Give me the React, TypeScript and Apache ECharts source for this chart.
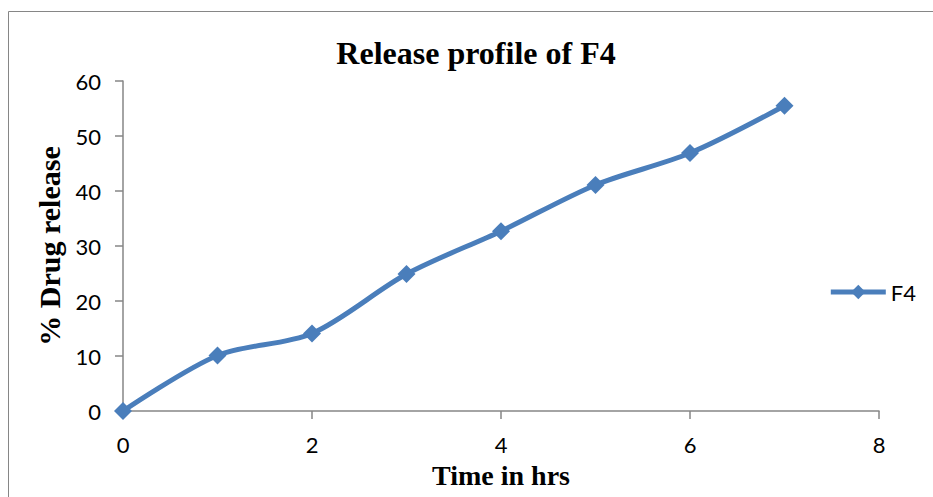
import React, { useEffect, useRef } from "react";
import * as echarts from "echarts";

const timeHrs = [0, 1, 2, 3, 4, 5, 6, 7];
const f4Release = [0, 10.1, 14.1, 24.9, 32.7, 41.1, 46.9, 55.5];
const xTicks = [0, 2, 4, 6, 8];
const yTicks = [0, 10, 20, 30, 40, 50, 60];

export default function App() {
  const ref = useRef<HTMLDivElement>(null);
  useEffect(() => {
    if (!ref.current) return;
    const chart = echarts.init(ref.current, null, { renderer: "svg" });
    const axisColor = "#868686";
    const tickFont = { fontFamily: "Lato", fontSize: 22, color: "#000" };
    chart.setOption({
      animation: false,
      backgroundColor: "#fff",
      title: {
        text: "Release profile of F4",
        left: 471,
        textAlign: "center",
        top: 32,
        textStyle: { fontFamily: "Liberation Serif", fontWeight: "bold", fontSize: 32, color: "#000" },
      },
      graphic: [
        {
          type: "rect",
          shape: { x: 8.5, y: 11.5, width: 1000, height: 1000 },
          style: { fill: "none", stroke: "#868686", lineWidth: 1 },
          silent: true,
          z: -10,
        },
      ],
      legend: {
        right: 12,
        top: 276,
        itemWidth: 55,
        itemHeight: 18,
        itemGap: 6,
        data: ["F4"],
        lineStyle: { width: 5 },
        textStyle: { fontFamily: "Lato", fontSize: 22, color: "#000" },
      },
      grid: { left: 123, right: 54, top: 81, bottom: 86, containLabel: false },
      xAxis: {
        type: "value",
        min: xTicks[0],
        max: xTicks[xTicks.length - 1],
        interval: 2,
        name: "Time in hrs",
        nameLocation: "middle",
        nameGap: 50,
        nameTextStyle: { fontFamily: "Liberation Serif", fontWeight: "bold", fontSize: 28, color: "#000" },
        axisLine: { show: true, lineStyle: { color: axisColor, width: 1.5 } },
        axisTick: { show: true, length: 8, lineStyle: { color: axisColor, width: 1.5 } },
        axisLabel: { ...tickFont, margin: 22 },
        splitLine: { show: false },
      },
      yAxis: {
        type: "value",
        min: yTicks[0],
        max: yTicks[yTicks.length - 1],
        interval: 10,
        name: "% Drug release",
        nameLocation: "middle",
        nameGap: 59,
        nameTextStyle: { fontFamily: "Liberation Serif", fontWeight: "bold", fontSize: 30, color: "#000" },
        axisLine: { show: true, lineStyle: { color: axisColor, width: 1.5 } },
        axisTick: { show: true, length: 8, lineStyle: { color: axisColor, width: 1.5 } },
        axisLabel: { ...tickFont, margin: 22 },
        splitLine: { show: false },
      },
      series: [
        {
          name: "F4",
          type: "line",
          smooth: 0.3,
          data: timeHrs.map((t, i) => [t, f4Release[i]]),
          symbol: "diamond",
          symbolSize: 18,
          lineStyle: { color: "#4a7ebb", width: 5 },
          itemStyle: { color: "#4a7ebb" },
        },
      ],
    });
    return () => chart.dispose();
  }, []);
  return <div ref={ref} style={{ width: 933, height: 497, position: "absolute", left: 0, top: 0 }} />;
}
